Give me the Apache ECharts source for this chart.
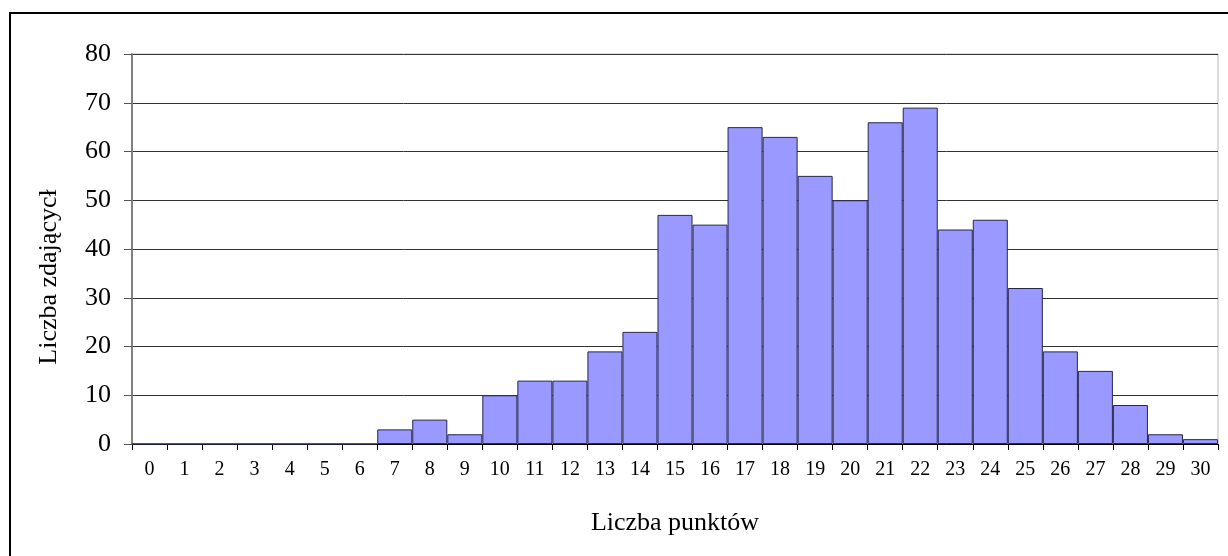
<!DOCTYPE html>
<html>
<head>
<meta charset="utf-8">
<script src="https://cdn.jsdelivr.net/npm/echarts@6/dist/echarts.min.js"></script>
<style>
html,body{margin:0;padding:0;background:#fff;}
#chart{width:1228px;height:556px;}
</style>
</head>
<body>
<div id="chart"></div>
<script>
const categories = ['0','1','2','3','4','5','6','7','8','9','10','11','12','13','14','15','16','17','18','19','20','21','22','23','24','25','26','27','28','29','30'];
const counts = [0,0,0,0,0,0,0,3,5,2,10,13,13,19,23,47,45,65,63,55,50,66,69,44,46,32,19,15,8,2,1];
const xTitle = 'Liczba punktów';
const yTitle = 'Liczba zdającycł';
const yMin = 0, yMax = 80, yStep = 10;

const FONT = "'Liberation Serif', 'Times New Roman', serif";
const chart = echarts.init(document.getElementById('chart'));
chart.setOption({
  animation: false,
  backgroundColor: '#fff',
  textStyle: { fontFamily: FONT, color: '#000' },
  grid: { left: 132, right: 10, top: 54, bottom: 112, show: true, borderColor: '#b8b8b8', borderWidth: 1, backgroundColor: 'transparent' },
  graphic: [
    { type: 'polyline', shape: { points: [[10, 560], [10, 13], [1232, 13]] }, style: { stroke: '#000', lineWidth: 2, fill: null }, silent: true }
  ],
  xAxis: {
    type: 'category',
    data: categories,
    boundaryGap: true,
    name: xTitle,
    nameLocation: 'middle',
    nameGap: 66,
    nameTextStyle: { fontFamily: FONT, fontSize: 26, color: '#000' },
    axisLine: { lineStyle: { color: '#000', width: 1 } },
    axisTick: { show: true, interval: 0, length: 6, lineStyle: { color: '#000' } },
    axisLabel: { interval: 0, fontFamily: FONT, fontSize: 20, color: '#000', margin: 16 },
    splitLine: { show: false }
  },
  yAxis: {
    type: 'value',
    min: yMin, max: yMax, interval: yStep,
    name: yTitle,
    nameLocation: 'middle',
    nameGap: 70,
    nameRotate: 90,
    nameTextStyle: { fontFamily: FONT, fontSize: 26, color: '#000', padding: [0, 56, 0, 0] },
    axisLine: { show: true, lineStyle: { color: '#808080', width: 2 } },
    axisTick: { show: true, inside: false, length: 8, lineStyle: { color: '#555' } },
    axisLabel: { fontFamily: FONT, fontSize: 26, color: '#000', margin: 21 },
    splitLine: { show: true, lineStyle: { color: '#333', width: 1 } }
  },
  series: [{
    type: 'bar',
    data: counts,
    barCategoryGap: '0%',
    barGap: '0%',
    itemStyle: { color: '#9999FF', borderColor: '#262650', borderWidth: 1 }
  }]
});
</script>
</body>
</html>
